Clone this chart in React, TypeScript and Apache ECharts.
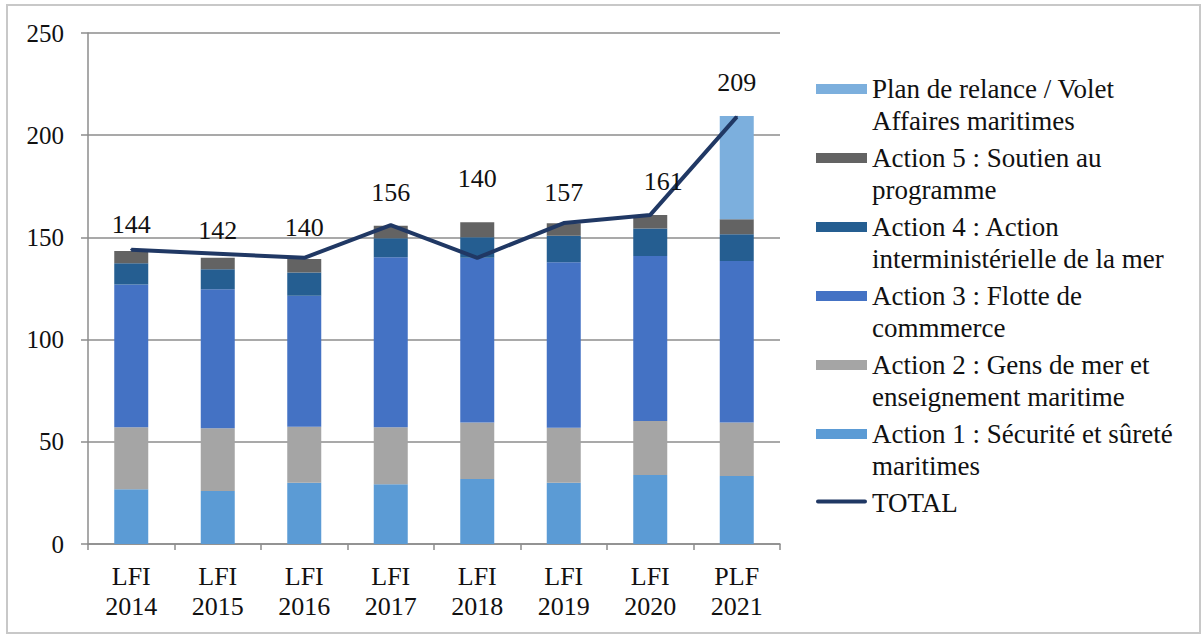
import React, { useEffect, useRef } from "react";
import * as echarts from "echarts";

const categories = ["LFI\n2014", "LFI\n2015", "LFI\n2016", "LFI\n2017", "LFI\n2018", "LFI\n2019", "LFI\n2020", "PLF\n2021"];

const action1 = [26.8, 25.9, 30.0, 29.2, 31.8, 30.0, 33.8, 33.3];
const action2 = [30.3, 30.7, 27.4, 27.9, 27.7, 26.9, 26.4, 26.2];
const action3 = [69.9, 68.0, 64.1, 83.2, 80.5, 80.9, 80.7, 79.0];
const action4 = [10.3, 9.8, 11.3, 9.3, 10.1, 13.0, 13.5, 13.0];
const action5 = [6.0, 5.6, 6.6, 6.1, 7.3, 6.1, 6.6, 7.4];
const planRelance = [null, null, null, null, null, null, null, 50.5];
const total = [144, 142, 140, 156, 140, 157, 161, 209];

const yTicks = { min: 0, max: 250, interval: 50 };

const NAME_A1 = "Action 1 : Sécurité et sûreté maritimes";
const NAME_A2 = "Action 2 : Gens de mer et enseignement maritime";
const NAME_A3 = "Action 3 : Flotte de commmerce";
const NAME_A4 = "Action 4 : Action interministérielle de la mer";
const NAME_A5 = "Action 5 : Soutien au programme";
const NAME_PLAN = "Plan de relance / Volet Affaires maritimes";
const NAME_TOTAL = "TOTAL";

const legendText: Record<string, string> = {
  [NAME_PLAN]: "Plan de relance / Volet\nAffaires maritimes",
  [NAME_A5]: "Action 5 : Soutien au\nprogramme",
  [NAME_A4]: "Action 4 : Action\ninterministérielle de la mer",
  [NAME_A3]: "Action 3 : Flotte de\ncommmerce",
  [NAME_A2]: "Action 2 : Gens de mer et\nenseignement maritime",
  [NAME_A1]: "Action 1 : Sécurité et sûreté\nmaritimes",
  [NAME_TOTAL]: "TOTAL\n ",
};

// label placement tweaks (pixels) for the TOTAL values
const labelDx = [0, 0, 0, 0, 0, 0, 13, 0];
const labelDy = [11, 9, 16, 19, 65, 17, 19, 20];

const FONT = "Liberation Serif";
const AXIS_GRAY = "#8c8c8c";

const RECT_ICON = "path://M0 0H51V10H0ZM50.99 41.99H51V42H50.99Z";
const LINE_ICON = "path://M2 3H49A2 2 0 0 1 49 7H2A2 2 0 0 1 2 3ZM50.99 41.99H51V42H50.99Z";

export default function App() {
  const ref = useRef<HTMLDivElement>(null);

  useEffect(() => {
    if (!ref.current) return;
    const chart = echarts.init(ref.current, null, { renderer: "svg" });

    const bar = (name: string, data: (number | null)[], color: string) => ({
      name,
      type: "bar",
      stack: "budget",
      barWidth: 34,
      data,
      itemStyle: { color },
    });

    chart.setOption({
      animation: false,
      backgroundColor: "#ffffff",
      textStyle: { fontFamily: FONT },
      grid: { left: 88, right: 422, top: 33, bottom: 91, containLabel: false },
      graphic: [
        {
          type: "rect",
          shape: { x: 7, y: 5, width: 1193, height: 628 },
          style: { fill: "none", stroke: "#c8c8c8", lineWidth: 2 },
          silent: true,
        },
      ],
      legend: {
        orient: "vertical",
        left: 816,
        top: 73,
        padding: 0,
        itemGap: 5,
        itemWidth: 51,
        itemHeight: 42,
        selectedMode: false,
        formatter: (name: string) => legendText[name] ?? name,
        textStyle: { fontFamily: FONT, fontSize: 27, lineHeight: 32, color: "#111" },
        data: [
          { name: NAME_PLAN, icon: RECT_ICON },
          { name: NAME_A5, icon: RECT_ICON },
          { name: NAME_A4, icon: RECT_ICON },
          { name: NAME_A3, icon: RECT_ICON },
          { name: NAME_A2, icon: RECT_ICON },
          { name: NAME_A1, icon: RECT_ICON },
          { name: NAME_TOTAL, icon: LINE_ICON, itemStyle: { color: "#203864" } },
        ],
      },
      xAxis: {
        type: "category",
        data: categories,
        axisLine: { lineStyle: { color: AXIS_GRAY, width: 1.5 } },
        axisTick: { show: true, length: 6, lineStyle: { color: AXIS_GRAY, width: 1.5 } },
        axisLabel: { fontFamily: FONT, fontSize: 26, lineHeight: 30, color: "#111", margin: 17 },
      },
      yAxis: {
        type: "value",
        min: yTicks.min,
        max: yTicks.max,
        interval: yTicks.interval,
        axisLine: { show: true, lineStyle: { color: AXIS_GRAY, width: 1.5 } },
        axisTick: { show: true, length: 7, lineStyle: { color: AXIS_GRAY, width: 1.5 } },
        splitLine: { show: true, lineStyle: { color: AXIS_GRAY, width: 1.5 } },
        axisLabel: { fontFamily: FONT, fontSize: 25, color: "#111", margin: 24 },
      },
      series: [
        bar(NAME_A1, action1, "#5b9bd5"),
        bar(NAME_A2, action2, "#a5a5a5"),
        bar(NAME_A3, action3, "#4472c4"),
        bar(NAME_A4, action4, "#255e91"),
        bar(NAME_A5, action5, "#636363"),
        bar(NAME_PLAN, planRelance, "#7cafdd"),
        {
          name: NAME_TOTAL,
          type: "line",
          z: 10,
          symbol: "circle",
          symbolSize: 2,
          showSymbol: true,
          itemStyle: { color: "#203864" },
          lineStyle: { color: "#203864", width: 4 },
          label: {
            show: true,
            position: "top",
            distance: 0,
            fontFamily: FONT,
            fontSize: 26,
            color: "#111",
          },
          data: total.map((v, i) => ({
            value: v,
            label: { offset: [labelDx[i], -labelDy[i]] },
          })),
        },
      ],
    });

    return () => chart.dispose();
  }, []);

  return (
    <div
      ref={ref}
      style={{ position: "absolute", left: 0, top: 0, width: 1202, height: 635, background: "#fff" }}
    />
  );
}
